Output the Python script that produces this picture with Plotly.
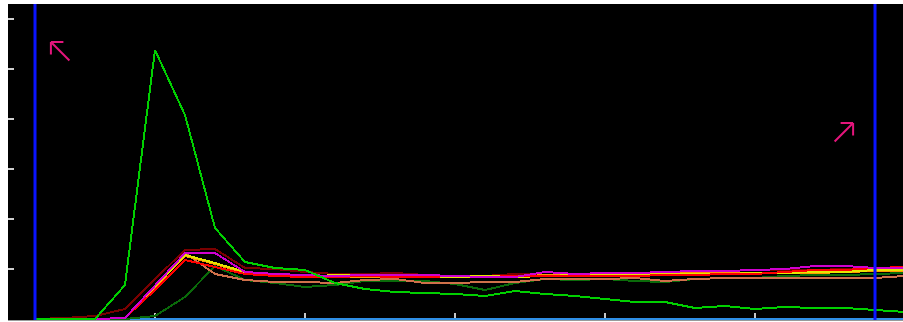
import plotly.graph_objects as go

# x positions are sample indices
x_idx = list(range(30))

# series values (1 unit = one y tick)
baseline = [0.0] * 30
bright_green = [0, 0, 0, 0.68, 5.38, 4.08, 1.82, 1.14, 1.02, 0.98, 0.72, 0.60, 0.54, 0.52, 0.50,
                0.46, 0.56, 0.50, 0.46, 0.40, 0.34, 0.34, 0.22, 0.26, 0.20, 0.24, 0.22, 0.22, 0.18, 0.14]
dark_red = [0, 0.02, 0.06, 0.20, 0.80, 1.38, 1.40, 1.02, 1.00, 0.94, 0.90, 0.90, 0.92, 0.88, 0.86,
            0.86, 0.90, 0.88, 0.88, 0.90, 0.92, 0.94, 0.94, 0.96, 0.98, 0.98, 0.98, 1.00, 1.02, 1.02]
magenta = [0, 0, 0, 0.02, 0.68, 1.32, 1.32, 0.94, 0.90, 0.88, 0.86, 0.88, 0.88, 0.88, 0.86,
           0.84, 0.84, 0.94, 0.90, 0.92, 0.92, 0.94, 0.96, 0.96, 0.98, 1.00, 1.06, 1.06, 1.02, 1.02]
yellow = [0, 0, 0, 0.02, 0.66, 1.28, 1.12, 0.94, 0.86, 0.84, 0.88, 0.86, 0.84, 0.86, 0.84,
          0.86, 0.84, 0.86, 0.88, 0.88, 0.88, 0.90, 0.90, 0.90, 0.92, 0.92, 0.94, 0.94, 0.98, 0.98]
orange = [0, 0, 0, 0.02, 0.64, 1.26, 1.10, 0.92, 0.86, 0.84, 0.86, 0.84, 0.84, 0.86, 0.86,
          0.86, 0.84, 0.88, 0.88, 0.90, 0.90, 0.90, 0.92, 0.92, 0.92, 0.92, 0.92, 0.94, 0.96, 0.96]
red = [0, 0, 0, 0.02, 0.58, 1.18, 1.04, 0.90, 0.86, 0.84, 0.84, 0.86, 0.84, 0.84, 0.86,
       0.84, 0.86, 0.86, 0.86, 0.86, 0.86, 0.88, 0.88, 0.90, 0.90, 0.94, 0.98, 0.98, 1.02, 1.04]
salmon = [0, 0, 0, 0.02, 0.64, 1.32, 0.90, 0.78, 0.74, 0.74, 0.72, 0.78, 0.80, 0.72, 0.72,
          0.74, 0.74, 0.80, 0.80, 0.80, 0.82, 0.76, 0.80, 0.82, 0.82, 0.82, 0.82, 0.82, 0.82, 0.86]
dark_green = [0, 0, 0, 0, 0.06, 0.44, 1.06, 0.78, 0.72, 0.64, 0.68, 0.76, 0.76, 0.76, 0.70,
              0.58, 0.72, 0.80, 0.78, 0.80, 0.76, 0.74, 0.80, 0.82, 0.82, 0.86, 0.88, 0.88, 0.90, 0.92]

series = [
    ("baseline", baseline, "#2f8fe6"),
    ("dark green", dark_green, "#0a6a0a"),
    ("salmon", salmon, "#d0704a"),
    ("dark red", dark_red, "#7a0000"),
    ("orange", orange, "#ff9a00"),
    ("yellow", yellow, "#e6e600"),
    ("red", red, "#ff0000"),
    ("magenta", magenta, "#d000d0"),
    ("bright green", bright_green, "#00d000"),
]

y_ticks = [1, 2, 3, 4, 5, 6]
x_ticks = [4, 9, 14, 19, 24]
marker_lines = [0, 28]
# arrow tips (data coords) and direction of tail (pixel sign in x)
arrow_tips = [(0.53, 5.54, 1), (27.27, 3.92, -1)]

fig = go.Figure()
for name, vals, col in series:
    fig.add_trace(go.Scatter(x=x_idx, y=vals, mode="lines", name=name,
                             line=dict(color=col, width=2), hoverinfo="skip"))

for xv in marker_lines:
    fig.add_vline(x=xv, line=dict(color="#0a14ff", width=3), layer="above")

pink = "#e4157c"
for tx, ty, sgn in arrow_tips:
    # shaft and the two arms of an open right-angle head
    for dx, dy in [(20 * sgn, 20), (14 * sgn, 0), (0, 14)]:
        fig.add_annotation(x=tx, y=ty, xref="x", yref="y", text="", showarrow=True,
                           ax=dx, ay=dy, arrowhead=0, arrowwidth=2,
                           arrowcolor=pink, standoff=0, startstandoff=0)

fig.update_layout(
    width=903, height=322,
    margin=dict(l=8, r=0, t=4, b=2),
    paper_bgcolor="white", plot_bgcolor="black",
    showlegend=False,
)
fig.update_xaxes(range=[-0.9, 28.933], showgrid=False, zeroline=False,
                 tickvals=x_ticks, ticks="inside", ticklen=7, tickwidth=2,
                 tickcolor="#c8c8c8", showticklabels=False,
                 showline=True, linecolor="#9a9a9a", linewidth=1, layer="below traces")
fig.update_yaxes(range=[-0.02, 6.3], showgrid=False, zeroline=False,
                 tickvals=y_ticks, ticks="inside", ticklen=6, tickwidth=2,
                 tickcolor="#d0d0d0", showticklabels=False, showline=False)

post = ("document.body.style.margin='0px';document.body.style.overflow='hidden';"
        "var s=document.createElement('style');"
        "s.textContent='.scatterlayer path{shape-rendering:crispEdges;}';"
        "document.head.appendChild(s);")
fig.write_html("out.html", config={"displayModeBar": False}, post_script=post)
